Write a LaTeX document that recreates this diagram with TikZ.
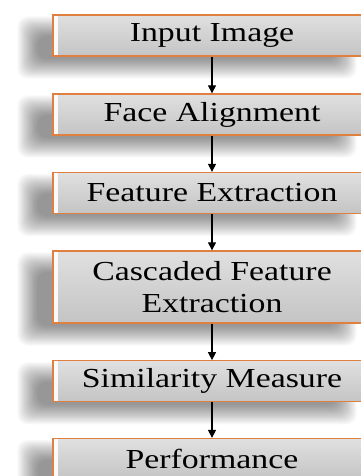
\documentclass[tikz,border=0pt]{standalone}
\usepackage{fontspec}
\setmainfont{Liberation Serif}[FakeStretch=1.23]
\usetikzlibrary{arrows.meta,backgrounds,calc}
\definecolor{boxorange}{RGB}{224,128,64}
\definecolor{boxtop}{RGB}{224,224,224}
\definecolor{boxbot}{RGB}{196,196,196}
\tikzset{
  stage/.style={draw=boxorange, line width=1.3pt, top color=boxtop, bottom color=boxbot,
    minimum width=318pt, minimum height=41pt, inner sep=0pt, align=center,
    font=\fontsize{27.5}{32}\selectfont,
    path picture={\fill[white,opacity=0.9] ([xshift=0.6pt]path picture bounding box.north west) rectangle ([xshift=4.5pt]path picture bounding box.south west);}},
  flow/.style={-{Triangle[length=8pt,width=8pt]}, line width=1.1pt, black},
}
\newcommand{\softshadow}[1]{%
  \foreach \k in {0,...,19}{%
    \pgfmathsetmacro{\d}{-10+1.05*\k}%
    \fill[black, opacity=0.024, rounded corners=10pt]
      ($(#1.north west)+(-25+\d,12+\d)$) rectangle ($(#1.south east)+(-25-\d,12-\d)$);
  }}
\begin{document}
\begin{tikzpicture}[x=1pt,y=-1pt]
\useasboundingbox (0,0) rectangle (361,476);
\clip (0,0) rectangle (361,476);
\node[stage] (b1) at (212,35.5) {Input Image};
\node[stage] (b2) at (212,114.5) {Face Alignment};
\node[stage] (b3) at (212,193) {Feature Extraction};
\node[stage, minimum height=72pt] (b4) at (212,287) {Cascaded Feature\\Extraction};
\node[stage] (b5) at (212,381.3) {Similarity Measure};
\node[stage] (b6) at (212,459) {Performance};
\begin{scope}[on background layer]
  \fill[white] (0,0) rectangle (361,476);
  \foreach \n in {b1,b2,b3,b4,b5,b6}{\softshadow{\n}}
\end{scope}
\draw[flow] (b1) -- (b2);
\draw[flow] (b2) -- (b3);
\draw[flow] (b3) -- (b4);
\draw[flow] (b4) -- (b5);
\draw[flow] (b5) -- (b6);
\end{tikzpicture}
\end{document}
